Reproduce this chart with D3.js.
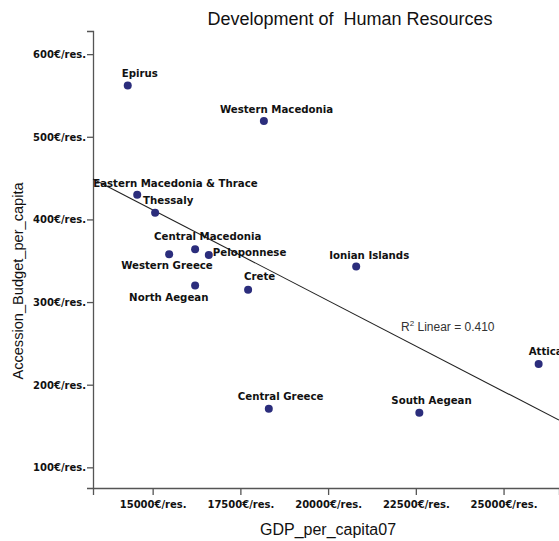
<!DOCTYPE html>
<html>
<head>
<meta charset="utf-8">
<script src="https://cdn.jsdelivr.net/npm/d3@7"></script>
<style>
  html, body { margin: 0; padding: 0; background: #fff; }
  svg { display: block; }
</style>
</head>
<body>
<div id="chart"></div>
<script>
// Scatter of accession budget vs GDP per capita, with a linear fit line.

const regions = [
  "Epirus", "Western Macedonia", "Eastern Macedonia & Thrace", "Thessaly",
  "Central Macedonia", "Western Greece", "Peloponnese", "Crete",
  "North Aegean", "Ionian Islands", "Attica", "Central Greece", "South Aegean"
];
const gdpPerCapita07 = [
  14290, 18170, 14560, 15070, 16210, 15470, 16600, 17720,
  16210, 20800, 26000, 18310, 22600
];
const accessionBudgetPerCapita = [
  562, 519, 430, 408, 364, 358, 357, 315,
  320, 343, 225, 171, 166
];
const xTicks = [15000, 17500, 20000, 22500, 25000];
const yTicks = [100, 200, 300, 400, 500, 600];

// label placement next to each dot (pixels), layout only
const labelOffset = {
  "Epirus":                     [-6, -9],
  "Western Macedonia":          [-44, -8],
  "Eastern Macedonia & Thrace": [-44, -8],
  "Thessaly":                   [-12, -9],
  "Central Macedonia":          [-41, -9],
  "Western Greece":             [-48, 15],
  "Peloponnese":                [4, 1],
  "Crete":                      [-4, -10],
  "North Aegean":               [-66, 15],
  "Ionian Islands":             [-27, -8],
  "Attica":                     [-10, -9],
  "Central Greece":             [-31, -9],
  "South Aegean":               [-28, -9]
};

const W = 559, H = 541;
const BOLD = "'DejaVu Sans', sans-serif";
const SANS = "'Liberation Sans', Arial, sans-serif";
const DOT = "#2b2d7c";
const AXIS = "#555";

const data = regions.map((r, i) => ({
  region: r, gdp: gdpPerCapita07[i], budget: accessionBudgetPerCapita[i]
}));

const svg = d3.select("#chart").append("svg")
  .attr("width", W).attr("height", H);

const x = d3.scaleLinear().domain([13300, 26580]).range([93, 559]);
const y = d3.scaleLinear().domain([75, 628]).range([488, 31]);

// title
svg.append("text")
  .attr("x", 350).attr("y", 25)
  .attr("text-anchor", "middle")
  .attr("font-family", SANS).attr("font-size", "18px")
  .attr("fill", "#111")
  .attr("xml:space", "preserve")
  .text("Development of  Human Resources");

// axes
const fmt = d => d + "€/res.";

const xAxisG = svg.append("g")
  .attr("transform", `translate(0,${y.range()[0]})`)
  .call(d3.axisBottom(x).tickValues(xTicks).tickFormat(fmt).tickSizeOuter(0).tickSize(7).tickPadding(6));

const yAxisG = svg.append("g")
  .attr("transform", `translate(${x.range()[0]},0)`)
  .call(d3.axisLeft(y).tickValues(yTicks).tickFormat(fmt).tickSizeOuter(0).tickSize(6).tickPadding(1));

[xAxisG, yAxisG].forEach(g => {
  g.select(".domain").attr("stroke", AXIS).attr("stroke-width", 1.3);
  g.selectAll(".tick line").attr("stroke", AXIS).attr("stroke-width", 1.3);
  g.selectAll(".tick text")
    .attr("fill", "#111")
    .attr("font-family", BOLD)
    .attr("font-weight", "bold")
    .attr("font-size", "10px");
});
yAxisG.selectAll(".tick text").attr("dy", "0.35em");

// axis titles
svg.append("text")
  .attr("x", 328).attr("y", 535)
  .attr("text-anchor", "middle")
  .attr("font-family", SANS).attr("font-size", "16px")
  .attr("fill", "#111")
  .text("GDP_per_capita07");

svg.append("text")
  .attr("transform", "translate(23,281) rotate(-90)")
  .attr("text-anchor", "middle")
  .attr("font-family", SANS).attr("font-size", "14.6px")
  .attr("fill", "#111")
  .text("Accession_Budget_per_capita");

// linear fit (least squares over the points)
const mx = d3.mean(data, d => d.gdp);
const my = d3.mean(data, d => d.budget);
const sxy = d3.sum(data, d => (d.gdp - mx) * (d.budget - my));
const sxx = d3.sum(data, d => (d.gdp - mx) ** 2);
const syy = d3.sum(data, d => (d.budget - my) ** 2);
const slope = sxy / sxx;
const r2 = (sxy * sxy) / (sxx * syy);
const fit = xv => my + slope * (xv - mx);

svg.append("line")
  .attr("x1", x(x.domain()[0])).attr("y1", y(fit(x.domain()[0])))
  .attr("x2", x(x.domain()[1])).attr("y2", y(fit(x.domain()[1])))
  .attr("stroke", "#222")
  .attr("stroke-width", 1.1);

const r2Label = svg.append("text")
  .attr("x", 401).attr("y", 331)
  .attr("font-family", SANS).attr("font-size", "12px")
  .attr("fill", "#333");
r2Label.append("tspan").text("R");
r2Label.append("tspan").attr("dy", -5).attr("font-size", "8px").text("2");
r2Label.append("tspan").attr("dy", 5).text(" Linear = " + r2.toFixed(3));

// points
svg.selectAll(".dot")
  .data(data)
  .join("circle")
    .attr("class", "dot")
    .attr("cx", d => x(d.gdp))
    .attr("cy", d => y(d.budget))
    .attr("r", 4)
    .attr("fill", DOT);

// point labels
svg.selectAll(".dot-label")
  .data(data)
  .join("text")
    .attr("class", "dot-label")
    .attr("x", d => x(d.gdp) + labelOffset[d.region][0])
    .attr("y", d => y(d.budget) + labelOffset[d.region][1])
    .attr("font-family", BOLD)
    .attr("font-weight", "bold")
    .attr("font-size", "10.2px")
    .attr("fill", "#111")
    .text(d => d.region);
</script>
</body>
</html>
